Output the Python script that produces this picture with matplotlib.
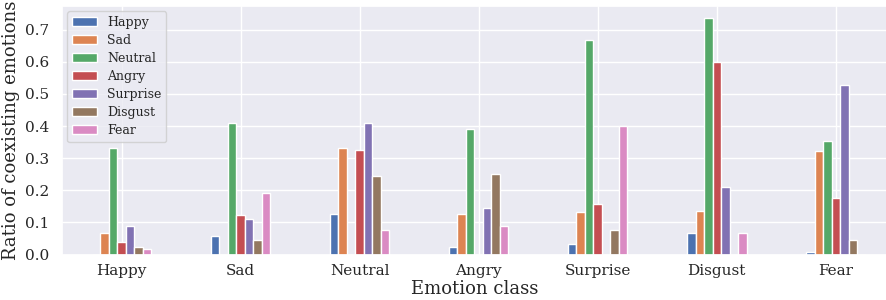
import numpy as np
import matplotlib
matplotlib.use("Agg")
import matplotlib.pyplot as plt
import seaborn as sns

sns.set_theme(style="darkgrid")
plt.rcParams['font.family'] = ['DejaVu Serif']

classes = ["Happy", "Sad", "Neutral", "Angry", "Surprise", "Disgust", "Fear"]

# ratio of each coexisting emotion (series) per emotion class (group)
happy = [0.0, 0.057, 0.125, 0.024, 0.032, 0.066, 0.007]
sad = [0.067, 0.0, 0.333, 0.126, 0.132, 0.135, 0.323]
neutral = [0.332, 0.410, 0.0, 0.392, 0.667, 0.737, 0.355]
angry = [0.039, 0.124, 0.325, 0.0, 0.158, 0.598, 0.176]
surprise = [0.088, 0.109, 0.410, 0.145, 0.0, 0.211, 0.529]
disgust = [0.022, 0.046, 0.243, 0.252, 0.076, 0.0, 0.044]
fear = [0.016, 0.193, 0.075, 0.088, 0.401, 0.066, 0.0]

series = [happy, sad, neutral, angry, surprise, disgust, fear]

fig = plt.figure(figsize=(8.87, 3.0), dpi=100)
ax = fig.add_axes([62/887, 1 - 254.5/300, 1 - 62/887, (254.5 - 6)/300])

x = np.arange(len(classes))
w = 0.5 / len(series)
colors = sns.color_palette("deep")
for i, (name, vals) in enumerate(zip(classes, series)):
    ax.bar(x - 0.25 + (i + 0.5) * w, vals, w, label=name, color=colors[i])

ax.set_xticks(x)
ax.set_xticklabels(classes, fontsize=11)
ax.tick_params(axis='x', pad=1)
ax.tick_params(axis='y', labelsize=11)
ax.set_xlim(-0.5, 6.43)
ax.set_xlabel("Emotion class", fontsize=13, labelpad=1)
ax.set_ylabel("Ratio of coexisting emotions", fontsize=13, labelpad=3)
leg = ax.legend(loc="upper left", fontsize=9, labelspacing=0.4,
                handlelength=2.0, borderaxespad=0.4)
for t in leg.get_texts():
    t.set_family('DejaVu Serif')

plt.savefig("out.png", dpi=100)
